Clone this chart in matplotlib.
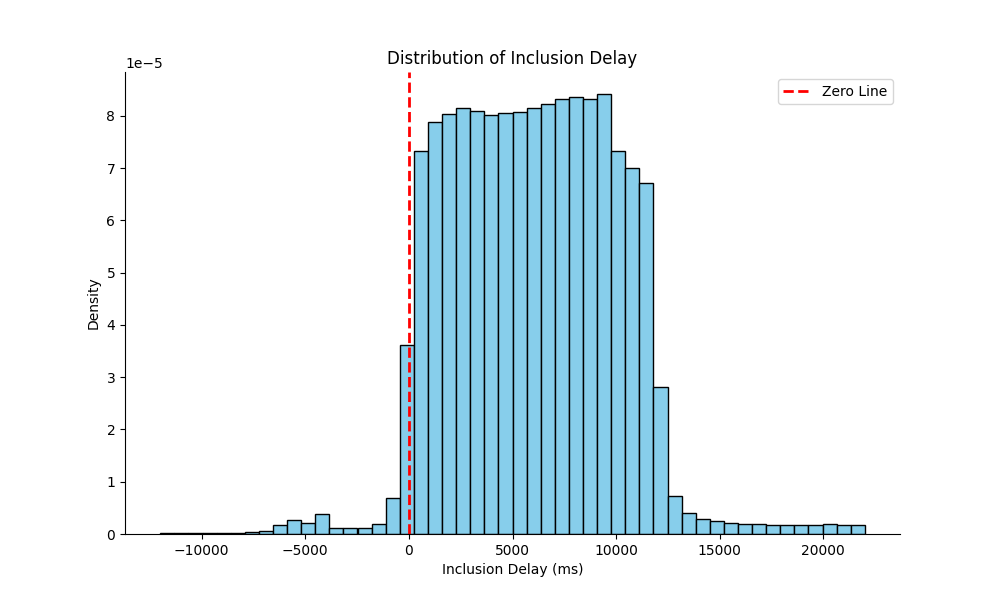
import numpy as np
import matplotlib
matplotlib.use("Agg")
import matplotlib.pyplot as plt

# Histogram layout: 50 bins from -12000 to 22000 ms
bin_start = -12000
bin_end = 22000
n_bins = 50

# Density per bin (in units of 1e-5)
density_e5 = [
    0.015, 0.015, 0.015, 0.015, 0.015, 0.02, 0.03, 0.05, 0.17, 0.26,
    0.22, 0.38, 0.11, 0.11, 0.11, 0.20, 0.68, 3.62, 7.32, 7.89,
    8.03, 8.15, 8.10, 8.02, 8.06, 8.08, 8.16, 8.22, 8.33, 8.37,
    8.33, 8.42, 7.33, 7.01, 6.72, 2.81, 0.72, 0.41, 0.28, 0.24,
    0.22, 0.20, 0.19, 0.18, 0.18, 0.18, 0.18, 0.20, 0.18, 0.18,
]

edges = np.linspace(bin_start, bin_end, n_bins + 1)
centers = (edges[:-1] + edges[1:]) / 2
weights = np.array(density_e5) * 1e-5

fig, ax = plt.subplots(figsize=(10, 6), dpi=100)
ax.hist(centers, bins=edges, weights=weights, color="skyblue", edgecolor="black")
ax.axvline(0, color="red", linestyle="--", linewidth=2, label="Zero Line")
ax.set_title("Distribution of Inclusion Delay")
ax.set_xlabel("Inclusion Delay (ms)")
ax.set_ylabel("Density")
ax.legend(loc="upper right")
ax.spines["top"].set_visible(False)
ax.spines["right"].set_visible(False)
fig.savefig("out.png", dpi=100)
